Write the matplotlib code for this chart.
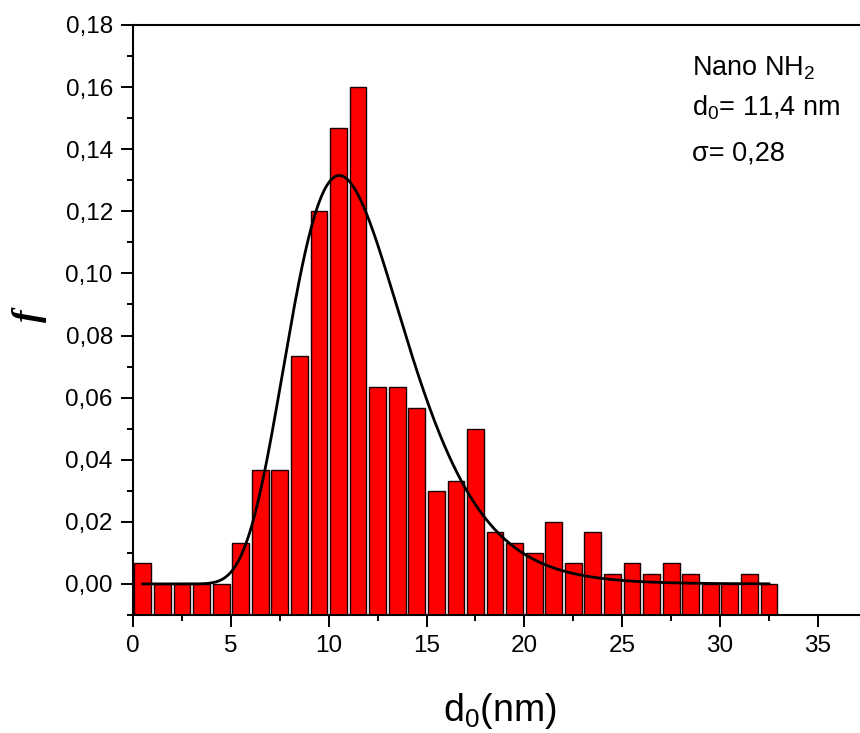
import numpy as np
import matplotlib
matplotlib.use("Agg")
import matplotlib.pyplot as plt
from matplotlib.ticker import MultipleLocator, FixedLocator

plt.rcParams['font.family'] = ['Liberation Sans', 'DejaVu Sans']
plt.rcParams['mathtext.fontset'] = 'custom'
plt.rcParams['mathtext.rm'] = 'Liberation Sans'
plt.rcParams['mathtext.it'] = 'Liberation Sans:italic'

# histogram data (bin width 1 nm, bins start at 0)
bin_left = list(range(0, 33))
freq = [0.0067, 0.0, 0.0, 0.0, 0.0, 0.0133, 0.0367, 0.0367, 0.0733, 0.12,
        0.1467, 0.16, 0.0633, 0.0633, 0.0567, 0.03, 0.0333, 0.05, 0.0167, 0.0133,
        0.01, 0.02, 0.0067, 0.0167, 0.0033, 0.0067, 0.0033, 0.0067, 0.0033, 0.0,
        0.0, 0.0033, 0.0]

# log-normal fit parameters (from the annotation)
d0 = 11.4
sigma = 0.28
fit_area = 1.012
fit_range = (0.5, 32.5)

yticks = [0.00, 0.02, 0.04, 0.06, 0.08, 0.10, 0.12, 0.14, 0.16, 0.18]
ytick_labels = ["0,00", "0,02", "0,04", "0,06", "0,08", "0,10", "0,12", "0,14", "0,16", "0,18"]
xticks = [0, 5, 10, 15, 20, 25, 30, 35]
xtick_labels = ["0", "5", "10", "15", "20", "25", "30", "35"]

fig = plt.figure(figsize=(8.6, 7.33), dpi=100)
ax = fig.add_axes([0.1547, 0.161, 0.8453, 0.8049])

ymin = -0.01
centers = np.array(bin_left) + 0.5
ax.bar(centers, np.array(freq) - ymin, bottom=ymin, width=0.86,
       color='#ff0000', edgecolor='#1a0000', linewidth=1.0, zorder=2)

xf = np.linspace(fit_range[0], fit_range[1], 600)
yf = fit_area * np.exp(-(np.log(xf / d0)) ** 2 / (2 * sigma ** 2)) / (xf * sigma * np.sqrt(2 * np.pi))
ax.plot(xf, yf, color='black', linewidth=2.0, zorder=3)

ax.set_xlim(0, 37.15)
ax.set_ylim(ymin, 0.18)

ax.yaxis.set_major_locator(FixedLocator(yticks))
ax.set_yticklabels(ytick_labels)
ax.yaxis.set_minor_locator(MultipleLocator(0.01))
ax.xaxis.set_major_locator(FixedLocator(xticks))
ax.set_xticklabels(xtick_labels)
ax.xaxis.set_minor_locator(MultipleLocator(2.5))

ax.tick_params(axis='both', which='major', direction='out', length=8.6, width=1.4,
               labelsize=17.5, colors='black', pad=6)
ax.tick_params(axis='both', which='minor', direction='out', length=4.2, width=1.4)
ax.tick_params(axis='x', which='major', pad=5.5)

for s in ['left', 'bottom', 'top']:
    ax.spines[s].set_linewidth(1.5)
ax.spines['right'].set_visible(False)

ax.set_xlabel(r"d$_\mathregular{0}$(nm)", fontsize=27)
ax.xaxis.set_label_coords(0.505, -0.128)
ax.set_ylabel("f", fontsize=27, style='italic', fontweight='bold', rotation=90,
              family=['Liberation Serif', 'DejaVu Serif'])
ax.yaxis.set_label_coords(-0.142, 0.508)
ax.yaxis.label.set_va('center')
ax.yaxis.label.set_ha('center')

tx = 0.769
ax.text(tx, 0.915, r"Nano NH$_\mathregular{2}$", transform=ax.transAxes, fontsize=19.5, va='baseline', ha='left')
ax.text(tx, 0.846, r"d$_\mathregular{0}$= 11,4 nm", transform=ax.transAxes, fontsize=19.5, va='baseline', ha='left')
ax.text(tx, 0.771, "\u03c3= 0,28", transform=ax.transAxes, fontsize=19.5, va='baseline', ha='left')

fig.savefig("out.png", dpi=100)
